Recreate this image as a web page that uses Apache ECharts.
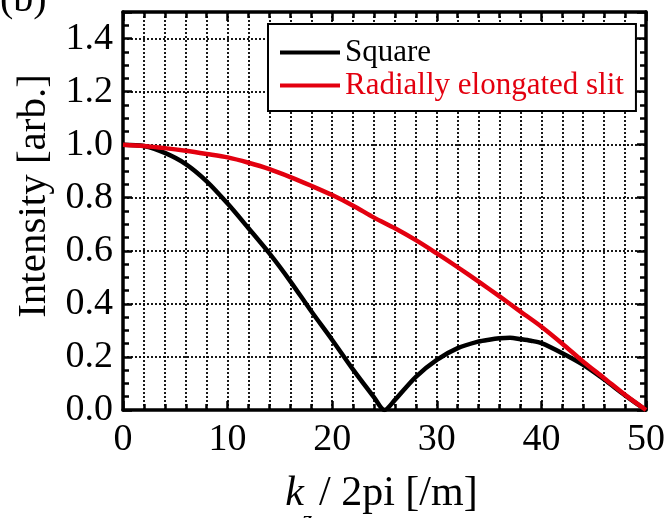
<!DOCTYPE html>
<html>
<head>
<meta charset="utf-8">
<script src="https://cdn.jsdelivr.net/npm/echarts@6/dist/echarts.min.js"></script>
<style>
html,body{margin:0;padding:0;background:#fff;}
#chart{width:668px;height:518px;}
</style>
</head>
<body>
<div id="chart"></div>
<script>
// ---- data ----
const seriesNames = ['Square', 'Radially elongated slit'];
const squareX = [0, 2, 4, 6, 8, 10, 12, 14, 16, 18, 20, 22, 24, 25, 26, 28, 30, 32, 34, 35, 36, 37, 38, 39, 40, 42, 44, 46, 48, 50];
const squareY = [1.0, 0.995, 0.969, 0.927, 0.862, 0.778, 0.685, 0.59, 0.485, 0.372, 0.264, 0.152, 0.048, 0.0, 0.038, 0.125, 0.189, 0.233, 0.258, 0.265, 0.27, 0.272, 0.267, 0.261, 0.252, 0.214, 0.17, 0.115, 0.055, 0.0];
const slitX = [0, 2, 4, 6, 8, 10, 12, 14, 16, 18, 20, 22, 24, 26, 28, 30, 32, 34, 36, 38, 40, 42, 44, 46, 48, 50];
const slitY = [1.0, 0.995, 0.987, 0.977, 0.965, 0.952, 0.932, 0.908, 0.878, 0.845, 0.81, 0.77, 0.725, 0.685, 0.64, 0.59, 0.538, 0.484, 0.428, 0.371, 0.314, 0.25, 0.182, 0.12, 0.057, 0.0];
const xRange = [0, 50];
const yRange = [0, 1.5];
const xStep = 10;
const yStep = 0.2;
const panelLabel = '(b)';
const yTitle = 'Intensity [arb.]';

const FONT = '"Liberation Serif", "Times New Roman", serif';
const RED = '#e3000f';

function pairs(xs, ys) { return xs.map((x, i) => [x, ys[i]]); }

const gridLine = { show: true, lineStyle: { color: '#000', width: 1.8, type: [2, 2] } };

function xAx(pos, main) {
  return {
    type: 'value', position: pos, min: xRange[0], max: xRange[1], interval: xStep,
    axisLine: { show: true, onZero: false, lineStyle: { color: '#000', width: 3.5 } },
    axisTick: { show: true, inside: true, length: 9, lineStyle: { color: '#000', width: 2.5 } },
    minorTick: { show: true, splitNumber: 5, length: 6, lineStyle: { color: '#000', width: 2.5 } },
    axisLabel: { show: main, color: '#000', fontFamily: FONT, fontSize: 38, margin: 11 },
    splitLine: main ? gridLine : { show: false },
    minorSplitLine: main ? gridLine : { show: false }
  };
}
function yAx(pos, main) {
  return {
    type: 'value', position: pos, min: yRange[0], max: yRange[1], interval: yStep,
    axisLine: { show: true, onZero: false, lineStyle: { color: '#000', width: 3.5 } },
    axisTick: { show: true, inside: true, length: 9, lineStyle: { color: '#000', width: 2.5 } },
    minorTick: { show: true, splitNumber: 4, length: 6, lineStyle: { color: '#000', width: 2.5 } },
    axisLabel: { show: main, color: '#000', fontFamily: FONT, fontSize: 38, margin: 10,
      showMaxLabel: false, formatter: v => v.toFixed(1) },
    splitLine: main ? gridLine : { show: false },
    minorSplitLine: { show: false }
  };
}

const chart = echarts.init(document.getElementById('chart'), null, { renderer: 'canvas' });
chart.setOption({
  backgroundColor: '#fff',
  animation: false,
  grid: { left: 123, right: 22, top: 12, bottom: 108 },
  xAxis: [xAx('bottom', true), xAx('top', false)],
  yAxis: [yAx('left', true), yAx('right', false)],
  legend: {
    orient: 'vertical', left: 268, top: 24,
    backgroundColor: '#fff', borderColor: '#000', borderWidth: 2,
    padding: [13, 12, 10, 12], itemGap: 2, itemWidth: 60, itemHeight: 4, icon: 'rect',
    textStyle: { fontFamily: FONT, fontSize: 31, lineHeight: 31 },
    data: [
      { name: seriesNames[0], textStyle: { color: '#000' } },
      { name: seriesNames[1], textStyle: { color: RED } }
    ]
  },
  series: [
    { name: seriesNames[0], type: 'line', data: pairs(squareX, squareY), symbol: 'none', smooth: 0.3,
      lineStyle: { color: '#000', width: 4.5 }, itemStyle: { color: '#000' }, z: 3 },
    { name: seriesNames[1], type: 'line', data: pairs(slitX, slitY), symbol: 'none', smooth: 0.3,
      lineStyle: { color: RED, width: 4.5 }, itemStyle: { color: RED }, z: 4 }
  ],
  graphic: [
    { type: 'text', x: 0, y: -20, style: { text: panelLabel, font: '40px ' + FONT, fill: '#000' } },
    { type: 'text', x: 34, y: 196, rotation: Math.PI / 2,
      style: { text: yTitle, font: '41px ' + FONT, fill: '#000', align: 'center', verticalAlign: 'middle' } },
    { type: 'text', x: 304, y: 494,
      style: { text: 'k', font: 'italic 42px ' + FONT, fill: '#000', align: 'right', verticalAlign: 'middle' } },
    { type: 'text', x: 302, y: 521,
      style: { text: 'z', font: 'italic 26px ' + FONT, fill: '#000', align: 'left', verticalAlign: 'middle' } },
    { type: 'text', x: 319, y: 494,
      style: { text: '/ 2pi [/m]', font: '42px ' + FONT, fill: '#000', align: 'left', verticalAlign: 'middle' } }
  ]
});
</script>
</body>
</html>
